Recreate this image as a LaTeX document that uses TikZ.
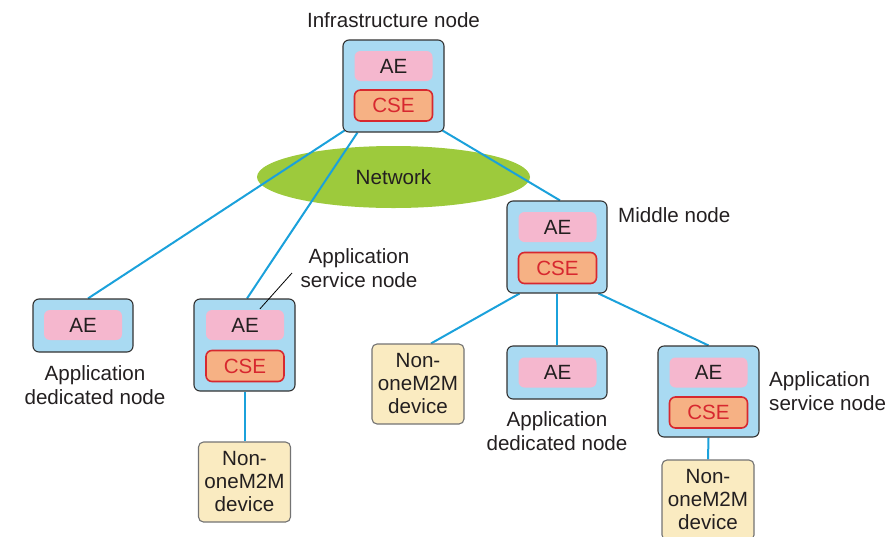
\documentclass[tikz,border=0pt]{standalone}
\usepackage{fontspec}
\setmainfont{Liberation Sans}
\usetikzlibrary{shapes.geometric,calc,backgrounds}
\definecolor{boxblue}{HTML}{A9DAF2}
\definecolor{aepink}{HTML}{F5B7CE}
\definecolor{cseorange}{HTML}{F6B184}
\definecolor{csered}{HTML}{D7282F}
\definecolor{netgreen}{HTML}{9DCA3C}
\definecolor{devyellow}{HTML}{FAEBC1}
\definecolor{linkcyan}{HTML}{1BA1DB}
\definecolor{txt}{HTML}{231F20}
\pgfdeclarelayer{bgzero}
\pgfdeclarelayer{bgone}
\pgfsetlayers{bgzero,bgone,main}
\tikzset{
  every node/.style={font=\fontsize{20.6}{24}\selectfont, text=txt},
  outerbox/.style={draw=black!80, line width=1.1pt, fill=boxblue, rounded corners=6pt, inner sep=0pt},
  aebox/.style={fill=aepink, rounded corners=6pt, minimum width=78pt, minimum height=30pt, inner sep=0pt},
  csebox/.style={draw=csered, line width=1.6pt, fill=cseorange, rounded corners=6pt, minimum width=78pt, minimum height=31pt, inner sep=0pt, text=csered},
  devbox/.style={draw=black!55, line width=1.1pt, fill=devyellow, rounded corners=5pt, minimum width=92pt, minimum height=80pt, inner sep=0pt, align=center, font=\fontsize{20.6}{23}\selectfont},
  link/.style={draw=linkcyan, line width=2pt},
  lbl/.style={align=center, inner sep=0pt}
}
\begin{document}
\begin{tikzpicture}[x=1pt,y=-1pt]
\useasboundingbox (0,0) rectangle (890,536);

% Infrastructure node
\node[outerbox, minimum width=101pt, minimum height=92pt] (infra) at (393.5,86) {};
\node[aebox] (infraae) at (393.5,66) {AE};
\node[csebox] (infracse) at (393.5,105.5) {CSE};
\node[lbl] (infralbl) at (393.5,20) {Infrastructure node};

% Middle node
\node[outerbox, minimum width=100pt, minimum height=92pt] (mid) at (557,247) {};
\node[aebox] (midae) at (557.5,227) {AE};
\node[csebox] (midcse) at (557.5,268) {CSE};
\node[lbl, anchor=west] (midlbl) at (618,215) {Middle node};

% Application dedicated node (left)
\node[outerbox, minimum width=100pt, minimum height=53pt] (adn1) at (83,325.5) {};
\node[aebox] (adn1ae) at (83,325) {AE};
\node[lbl] (adn1lbl) at (95,385) {Application\\dedicated node};

% Application service node (left)
\node[outerbox, minimum width=101pt, minimum height=92pt] (asn1) at (244.5,345) {};
\node[aebox] (asn1ae) at (245,325) {AE};
\node[csebox] (asn1cse) at (245,366) {CSE};
\node[lbl] (asn1lbl) at (359,268) {Application\\service node};
\coordinate (ptr) at (292,273);

% Non-oneM2M device (left)
\node[devbox] (non1) at (244.5,482) {Non-\\oneM2M\\device};

% Non-oneM2M device (middle)
\node[devbox] (non2) at (418,384) {Non-\\oneM2M\\device};

% Application dedicated node (middle)
\node[outerbox, minimum width=100pt, minimum height=53pt] (adn2) at (557,372.5) {};
\node[aebox] (adn2ae) at (557.5,372.5) {AE};
\node[lbl] (adn2lbl) at (557,431) {Application\\dedicated node};

% Application service node (right)
\node[outerbox, minimum width=101pt, minimum height=91pt] (asn2) at (708.5,391.5) {};
\node[aebox] (asn2ae) at (708.5,372.5) {AE};
\node[csebox] (asn2cse) at (708.5,412.5) {CSE};
\node[lbl, align=left, anchor=west] (asn2lbl) at (769,391) {Application\\service node};

% Non-oneM2M device (right)
\node[devbox] (non3) at (708,500) {Non-\\oneM2M\\device};

% Network
\begin{pgfonlayer}{bgzero}
\node[ellipse, fill=netgreen, minimum width=273pt, minimum height=62pt, inner sep=0pt] (net) at (393.5,177) {};
\end{pgfonlayer}
\node[lbl] (netlbl) at (393.5,177) {Network};

% Links
\begin{pgfonlayer}{bgone}
\draw[link] ($(infra.south west)+(2,-2)$) -- ($(adn1.north)+(5,0)$);
\draw[link] ($(infra.south west)+(15,0)$) -- ($(asn1.north)+(2.5,0)$);
\draw[link] ($(infra.south east)+(-2,-2)$) -- ($(mid.north)+(3,0)$);
\draw[link] ($(mid.south west)+(13,0)$) -- ($(non2.north)+(13,0)$);
\draw[link] (mid.south) -- (adn2.north);
\draw[link] ($(mid.south east)+(-9,0)$) -- (asn2.north);
\draw[link] (asn1.south) -- (non1.north);
\draw[link] (asn2.south) -- (non3.north);
\end{pgfonlayer}
\draw[black, line width=0.8pt] ($(asn1ae.north)+(15,-1)$) -- (ptr);
\end{tikzpicture}
\end{document}
